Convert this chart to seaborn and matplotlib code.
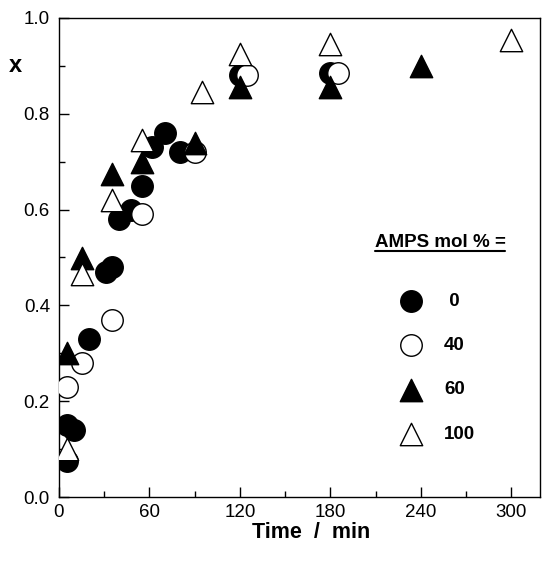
import matplotlib
matplotlib.use('Agg')
import matplotlib.pyplot as plt
from matplotlib.ticker import MultipleLocator
from matplotlib.lines import Line2D
import seaborn as sns
import pandas as pd

# datos (tiempo en min, conversion x)
t_0 = [5, 5, 10, 20, 31, 35, 40, 48, 55, 62, 70, 80, 120, 180]
x_0 = [0.075, 0.15, 0.14, 0.33, 0.47, 0.48, 0.58, 0.60, 0.65, 0.73, 0.76, 0.72, 0.88, 0.885]

t_40 = [5, 15, 35, 55, 90, 125, 185]
x_40 = [0.23, 0.28, 0.37, 0.59, 0.72, 0.88, 0.885]

t_60 = [5, 15, 35, 55, 90, 120, 180, 240]
x_60 = [0.30, 0.50, 0.675, 0.70, 0.74, 0.855, 0.855, 0.90]

t_100 = [5, 15, 35, 55, 95, 120, 180, 300]
x_100 = [0.10, 0.465, 0.62, 0.745, 0.845, 0.925, 0.945, 0.955]

grupos = ['0', '40', '60', '100']

data = pd.concat([
    pd.DataFrame({'t': t_0, 'x': x_0, 'AMPS': '0'}),
    pd.DataFrame({'t': t_40, 'x': x_40, 'AMPS': '40'}),
    pd.DataFrame({'t': t_60, 'x': x_60, 'AMPS': '60'}),
    pd.DataFrame({'t': t_100, 'x': x_100, 'AMPS': '100'}),
], ignore_index=True)

sns.set_theme(style='ticks')
plt.rcParams['font.family'] = ['Liberation Sans', 'DejaVu Sans']
plt.rcParams['text.color'] = 'black'
plt.rcParams['axes.labelcolor'] = 'black'

fig = plt.figure(figsize=(5.42, 5.62), dpi=100)
ax = fig.add_axes([59 / 542, 1 - 497 / 562, 481 / 542, 479 / 562])

# estilo de cada serie: marcador y relleno
estilos = {
    '0': ('o', 'black', 240),
    '40': ('o', 'white', 240),
    '60': ('^', 'black', 260),
    '100': ('^', 'white', 260),
}
etiquetas = {'0': ' 0', '40': '40', '60': '60', '100': '100'}

for i, g in enumerate(grupos):
    m, fc, s = estilos[g]
    sub = data[data['AMPS'] == g]
    sns.scatterplot(x='t', y='x', data=sub, ax=ax, marker=m, color=fc,
                    edgecolor='black', linewidth=1, s=s, zorder=3 + i,
                    label=etiquetas[g])

ax.set_xlim(0, 319)
ax.set_ylim(0, 1.0)
ax.xaxis.set_major_locator(MultipleLocator(60))
ax.xaxis.set_minor_locator(MultipleLocator(30))
ax.yaxis.set_major_locator(MultipleLocator(0.2))
ax.yaxis.set_minor_locator(MultipleLocator(0.1))
ax.yaxis.set_major_formatter(plt.FormatStrFormatter('%.1f'))
ax.tick_params(which='major', direction='in', length=7, width=1,
               labelsize=13.5, colors='black')
ax.tick_params(axis='x', which='major', pad=5)
ax.tick_params(axis='y', which='major', pad=6.5)
ax.tick_params(which='minor', direction='in', length=4, width=1, colors='black')
for sp in ax.spines.values():
    sp.set_visible(True)
    sp.set_color('black')
    sp.set_linewidth(1)

ax.set_xlabel('Time  /  min', fontsize=15.5, fontweight='bold', color='black')
ax.xaxis.set_label_coords(0.524, -0.052)
ax.set_ylabel('x', fontsize=17, fontweight='bold', rotation=0,
              va='center', ha='center', color='black')
ax.yaxis.set_label_coords(-0.091, 0.90)

leg = ax.legend(loc='upper left', bbox_to_anchor=(0.674, 0.446),
                frameon=False, handletextpad=0.75, labelspacing=1.45,
                borderpad=0, prop={'weight': 'bold', 'size': 13.5})

# titulo de la leyenda, subrayado
titulo = ax.text(0.792, 0.532, 'AMPS mol % =', transform=ax.transAxes,
                 ha='center', va='center', fontsize=13.5, fontweight='bold')
fig.canvas.draw()
bb = titulo.get_window_extent().transformed(fig.transFigure.inverted())
fig.add_artist(Line2D([bb.x0, bb.x1], [bb.y0 - 0.001, bb.y0 - 0.001],
                      transform=fig.transFigure, color='black', lw=1.5))

fig.savefig('out.png', dpi=100, facecolor='white')
